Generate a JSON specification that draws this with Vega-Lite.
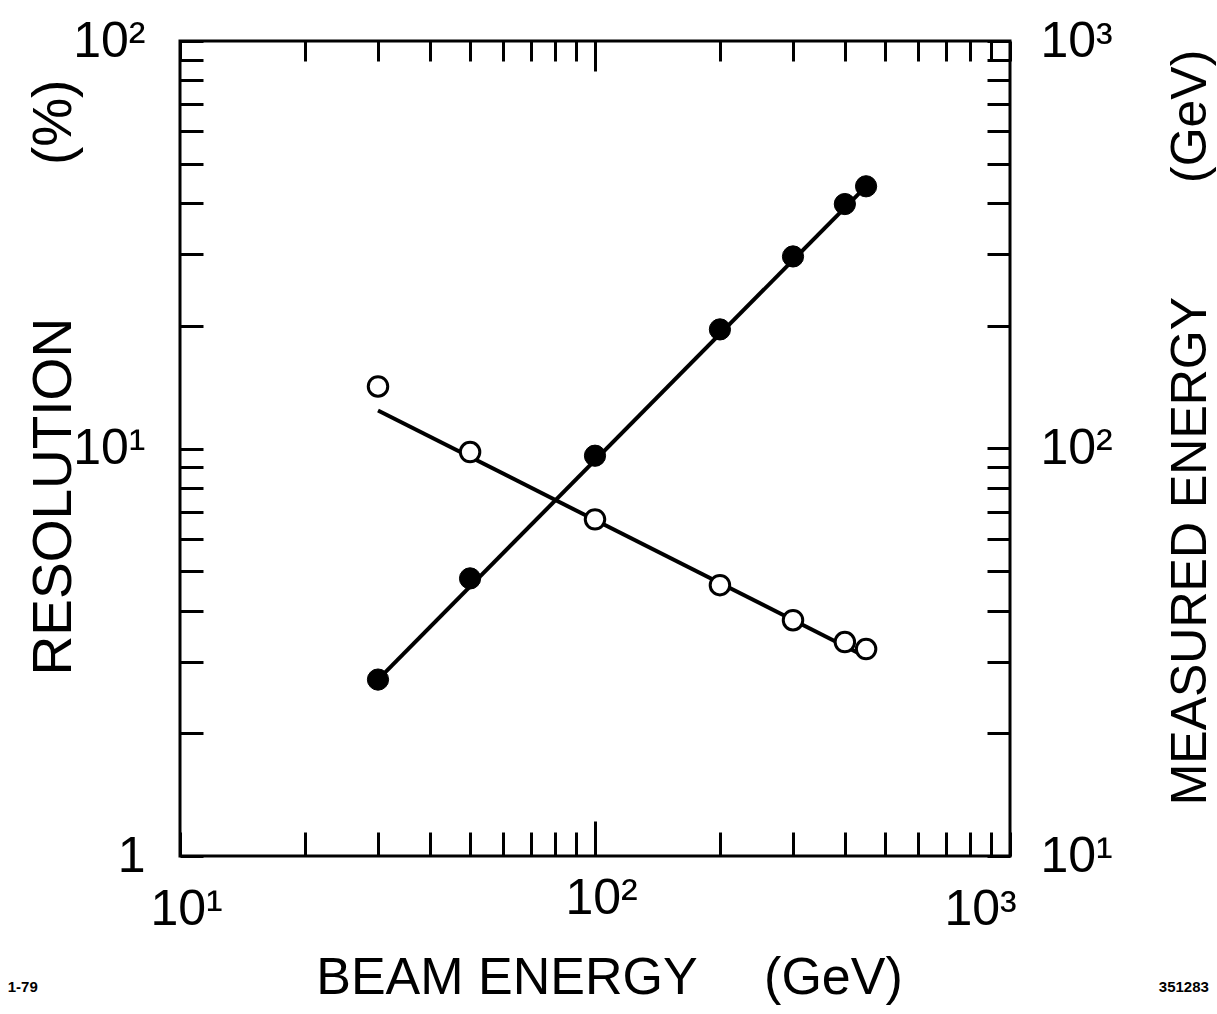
{
  "$schema": "https://vega.github.io/schema/vega-lite/v6.json",
  "width": 830,
  "height": 815,
  "autosize": {"type": "none"},
  "padding": {"left": 180, "top": 41, "right": 207, "bottom": 158},
  "background": "white",
  "config": {
    "view": {"stroke": "black", "strokeWidth": 3},
    "font": "Liberation Sans",
    "axis": {
      "domain": false,
      "grid": false,
      "tickColor": "black",
      "tickWidth": 3,
      "labelColor": "black",
      "titleColor": "black",
      "labelFont": "Liberation Sans",
      "titleFont": "Liberation Sans",
      "labelFontWeight": "normal",
      "titleFontWeight": "normal",
      "labelFontSize": 50,
      "titleFontSize": 52,
      "labelOverlap": false,
      "labelFlush": false
    }
  },
  "datasets": {
    "resolution": [
      {"E": 30, "R": 14.2},
      {"E": 50, "R": 9.8},
      {"E": 100, "R": 6.7},
      {"E": 200, "R": 4.62},
      {"E": 300, "R": 3.79},
      {"E": 400, "R": 3.35},
      {"E": 450, "R": 3.22}
    ],
    "resFit": [
      {"E": 30, "R": 12.4},
      {"E": 450, "R": 3.08}
    ],
    "measured": [
      {"E": 30, "M": 27.1},
      {"E": 50, "M": 48},
      {"E": 100, "M": 96},
      {"E": 200, "M": 196},
      {"E": 300, "M": 296},
      {"E": 400, "M": 398},
      {"E": 450, "M": 440}
    ],
    "measFit": [
      {"E": 30, "M": 27.1},
      {"E": 450, "M": 440}
    ]
  },
  "layer": [
    {
      "layer": [
        {
          "data": {"name": "resFit"},
          "mark": {"type": "line", "color": "black", "strokeWidth": 4},
          "encoding": {
            "x": {
              "field": "E", "type": "quantitative",
              "scale": {"type": "log", "domain": [10, 1000], "nice": false},
              "axis": {
                "orient": "bottom",
                "values": [10, 20, 30, 40, 50, 60, 70, 80, 90, 100, 200, 300, 400, 500, 600, 700, 800, 900, 1000],
                "labelExpr": "datum.value == 10 ? '10¹' : datum.value == 100 ? '10²' : datum.value == 1000 ? '10³' : ''",
                "labelOffset": {"condition": {"test": "datum.value == 1000", "value": -30}, "value": 6},
                "tickSize": {"condition": {"test": "datum.value == 100", "value": -35}, "value": -24},
                "labelPadding": 52,
                "title": "BEAM ENERGY\u2002\u2002 (GeV)",
                "titleX": 429,
                "titleY": 137,
                "titleAlign": "center",
                "titleBaseline": "alphabetic",
                "titleAngle": 0
              }
            },
            "y": {
              "field": "R", "type": "quantitative",
              "scale": {"type": "log", "domain": [1, 100], "nice": false},
              "axis": {
                "orient": "left",
                "values": [1, 2, 3, 4, 5, 6, 7, 8, 9, 10, 20, 30, 40, 50, 60, 70, 80, 90, 100],
                "labelExpr": "datum.value == 1 ? '1' : datum.value == 10 ? '10¹' : datum.value == 100 ? '10²' : ''",
                "tickSize": -23,
                "labelPadding": 58,
                "labelBaseline": "middle",
                "title": "RESOLUTION\u2002\u2002\u2002\u2002\u2002 (%)",
                "titleFontSize": 55,
                "titleAngle": 270,
                "titleX": -110,
                "titleY": 336,
                "titleAlign": "center",
                "titleBaseline": "alphabetic"
              }
            }
          }
        },
        {
          "data": {"name": "resolution"},
          "mark": {"type": "point", "shape": "circle", "filled": true, "fill": "white", "stroke": "black", "strokeWidth": 3, "size": 380, "opacity": 1},
          "encoding": {
            "x": {"field": "E", "type": "quantitative"},
            "y": {"field": "R", "type": "quantitative"}
          }
        }
      ]
    },
    {
      "layer": [
        {
          "data": {"name": "measFit"},
          "mark": {"type": "line", "color": "black", "strokeWidth": 4},
          "encoding": {
            "x": {
              "field": "E", "type": "quantitative",
              "scale": {"type": "log", "domain": [10, 1000], "nice": false},
              "axis": {
                "orient": "top",
                "values": [10, 20, 30, 40, 50, 60, 70, 80, 90, 100, 200, 300, 400, 500, 600, 700, 800, 900, 1000],
                "labels": false,
                "tickSize": {"condition": {"test": "datum.value == 100", "value": -30}, "value": -20},
                "title": null
              }
            },
            "y": {
              "field": "M", "type": "quantitative",
              "scale": {"type": "log", "domain": [10, 1000], "nice": false},
              "axis": {
                "orient": "right",
                "values": [10, 20, 30, 40, 50, 60, 70, 80, 90, 100, 200, 300, 400, 500, 600, 700, 800, 900, 1000],
                "labelExpr": "datum.value == 10 ? '10¹' : datum.value == 100 ? '10²' : datum.value == 1000 ? '10³' : ''",
                "tickSize": -23,
                "labelPadding": 53,
                "labelBaseline": "middle",
                "title": "MEASURED ENERGY\u2002\u2002\u2002\u2002 (GeV)",
                "titleFontSize": 50,
                "titleAngle": 270,
                "titleX": 195,
                "titleY": 386,
                "titleAlign": "center",
                "titleBaseline": "alphabetic"
              }
            }
          }
        },
        {
          "data": {"name": "measured"},
          "mark": {"type": "point", "shape": "circle", "filled": true, "fill": "black", "stroke": "black", "strokeWidth": 1, "size": 450, "opacity": 1},
          "encoding": {
            "x": {"field": "E", "type": "quantitative"},
            "y": {"field": "M", "type": "quantitative"}
          }
        }
      ]
    },
    {
      "data": {"values": [{"note": "1-79", "px": 4.18}, {"note": "351283", "px": 2624}]},
      "mark": {"type": "text", "font": "Liberation Sans", "fontWeight": "bold", "fontSize": 15, "color": "black", "align": "center", "baseline": "alphabetic"},
      "encoding": {
        "x": {"field": "px", "type": "quantitative", "axis": null},
        "y": {"datum": 0.4637, "type": "quantitative", "scale": {"type": "log", "domain": [1, 100], "nice": false}, "axis": null},
        "text": {"field": "note"}
      }
    }
  ],
  "resolve": {
    "scale": {"y": "independent"},
    "axis": {"x": "independent", "y": "independent"}
  }
}
